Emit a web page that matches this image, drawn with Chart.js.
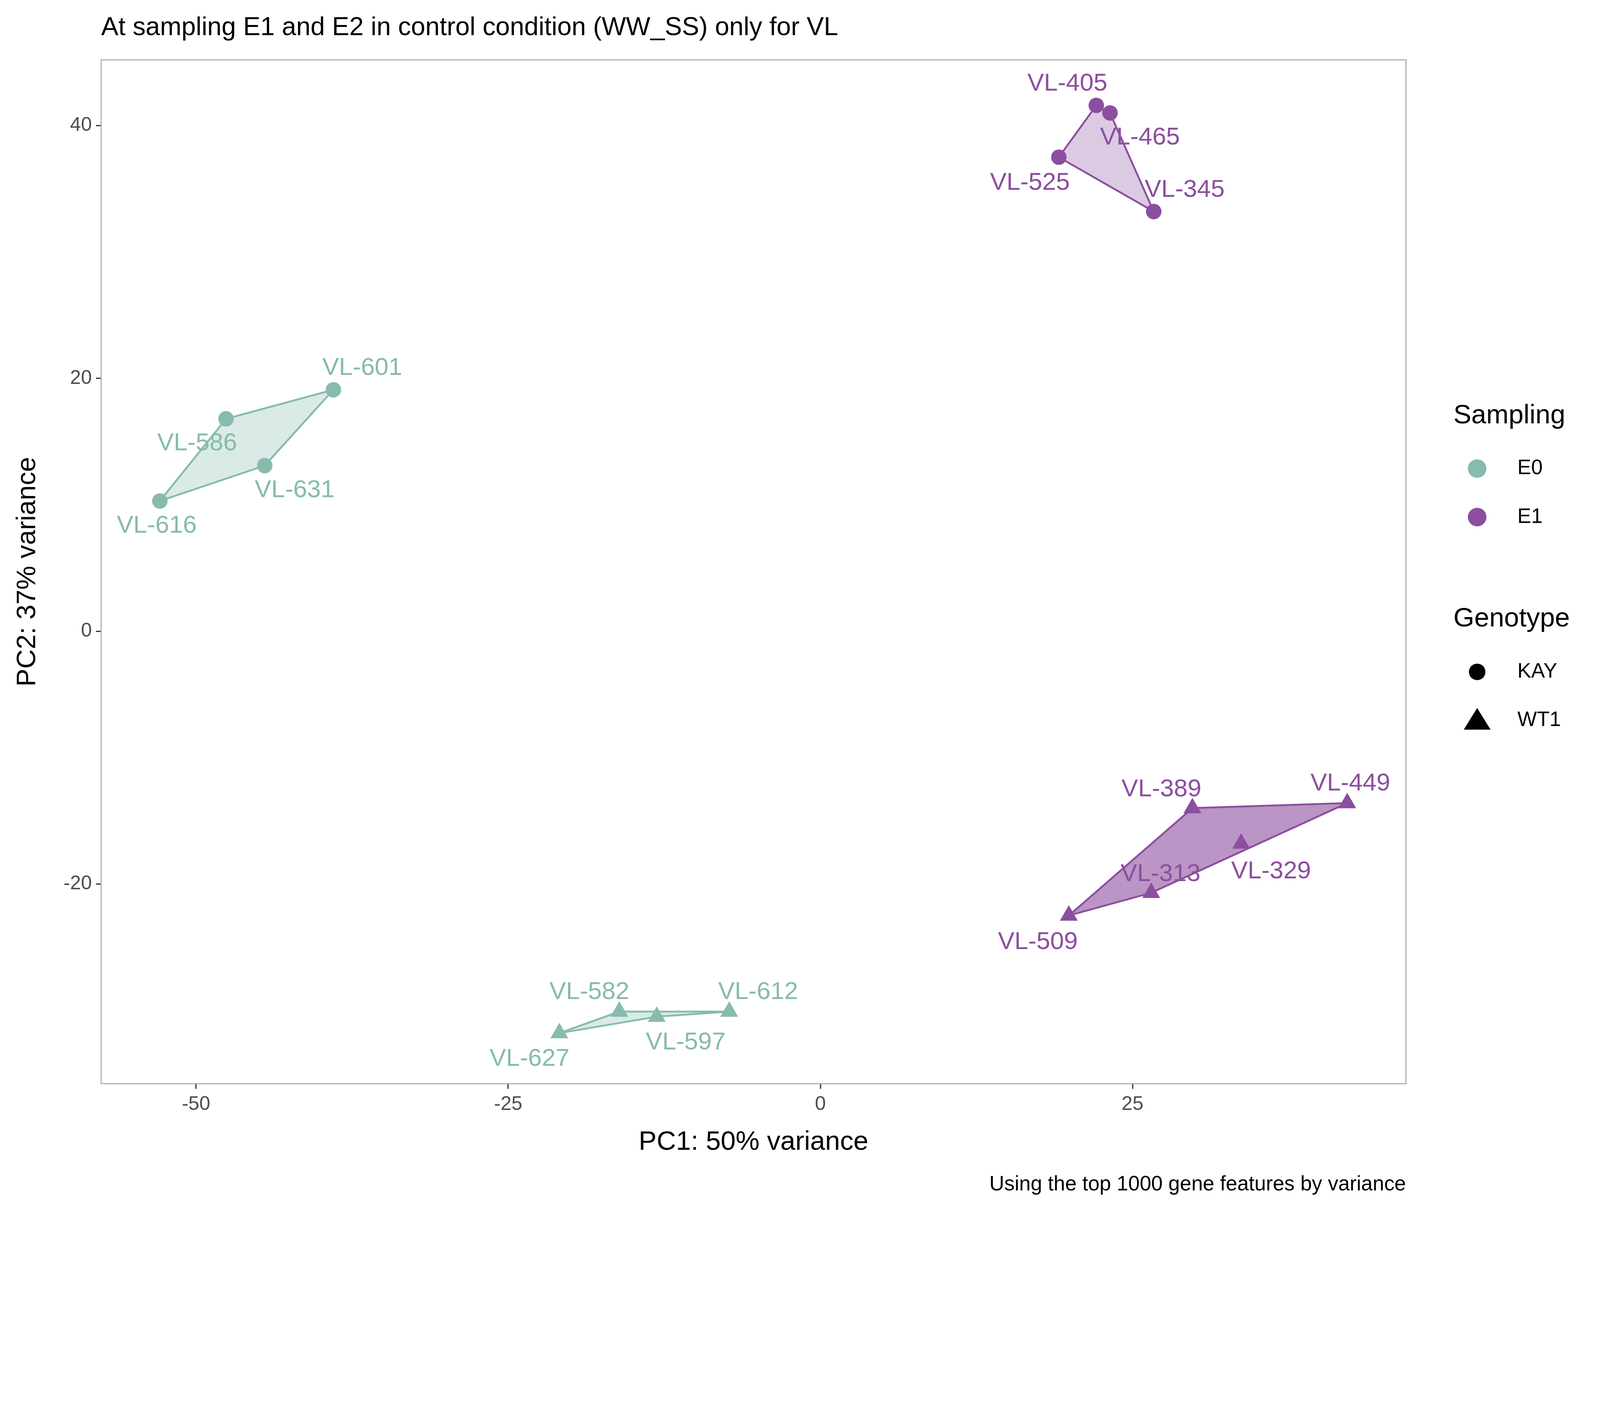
<!DOCTYPE html>
<html>
<head>
<meta charset="utf-8">
<script src="https://cdn.jsdelivr.net/npm/chart.js@4/dist/chart.umd.min.js"></script>
<style>
  html, body { margin: 0; padding: 0; background: #fff; overflow: hidden; }
  #wrap { width: 100vw; height: 100vh; position: relative; }
</style>
</head>
<body>
<div id="wrap"><canvas id="pca"></canvas></div>
<script>
// Samples: name, PC1, PC2
const e0Kay = [['VL-601', -39.0, 19.1], ['VL-586', -47.6, 16.8], ['VL-631', -44.5, 13.1], ['VL-616', -52.9, 10.3]];
const e1Kay = [['VL-405', 22.1, 41.6], ['VL-465', 23.2, 41.0], ['VL-525', 19.1, 37.5], ['VL-345', 26.7, 33.2]];
const e0Wt1 = [['VL-627', -20.9, -31.8], ['VL-582', -16.1, -30.1], ['VL-597', -13.1, -30.5], ['VL-612', -7.3, -30.1]];
const e1Wt1 = [['VL-389', 29.8, -14.0], ['VL-449', 42.2, -13.6], ['VL-329', 33.7, -16.8], ['VL-313', 26.5, -20.7], ['VL-509', 19.9, -22.5]];

// hull outlines (sample names, in drawing order)
const hullE0Kay = ['VL-616', 'VL-586', 'VL-601', 'VL-631'];
const hullE1Kay = ['VL-525', 'VL-405', 'VL-465', 'VL-345'];
const hullE0Wt1 = ['VL-627', 'VL-582', 'VL-612', 'VL-597'];
const hullE1Wt1 = ['VL-509', 'VL-389', 'VL-449', 'VL-313'];

const xTicks = [-50, -25, 0, 25];
const yTicks = [-20, 0, 20, 40];

const E0 = '#86BBAD';
const E1 = '#8C4E9F';

// scale from a 1550x1162 design to the window
const W = window.innerWidth, H = window.innerHeight;
const S = W / 1550;

// label offsets in design px (relative to the point)
const labelOffset = {
    'VL-601': [28, -21], 'VL-586': [-28, 24], 'VL-631': [29, 24], 'VL-616': [-3, 24],
    'VL-405': [-28, -21], 'VL-465': [29, 24], 'VL-525': [-28, 25], 'VL-345': [30, -21],
    'VL-627': [-29, 25], 'VL-582': [-29, -19], 'VL-597': [28, 25], 'VL-612': [28, -19],
    'VL-389': [-30, -18], 'VL-449': [3, -19], 'VL-329': [29, 27], 'VL-313': [9, -18], 'VL-509': [-30, 26]
};

function pts(group) { return group.map(g => ({ x: g[1], y: g[2], name: g[0] })); }
function hull(group, order) {
    const p = order.map(n => { const g = group.find(r => r[0] === n); return { x: g[1], y: g[2] }; });
    p.push(p[0]);
    return p;
}
function hullSet(group, order, color, alpha) {
    return {
        data: hull(group, order), showLine: true, fill: 'shape', tension: 0,
        borderColor: color, borderWidth: 1.8 * S, backgroundColor: color + alpha,
        pointRadius: 0, order: 2, isLabel: false
    };
}
function pointSet(group, color, style, r) {
    return {
        data: pts(group), pointStyle: style, pointRadius: r, pointHoverRadius: r,
        backgroundColor: color, borderColor: color, borderWidth: 0, order: 1, isLabel: true, labelColor: color
    };
}

const font = 'Arial, "Liberation Sans", sans-serif';

const decorations = {
    id: 'decorations',
    afterDatasetsDraw(chart) {
        const ctx = chart.ctx;
        const a = chart.chartArea;
        ctx.save();
        // labels
        ctx.font = `${24 * S}px ${font}`;
        ctx.textAlign = 'center';
        ctx.textBaseline = 'middle';
        chart.data.datasets.forEach((ds, i) => {
            if (!ds.isLabel) return;
            chart.getDatasetMeta(i).data.forEach((el, j) => {
                const off = labelOffset[ds.data[j].name];
                ctx.fillStyle = ds.labelColor;
                ctx.fillText(ds.data[j].name, el.x + off[0] * S, el.y + off[1] * S);
            });
        });
        // panel border
        ctx.strokeStyle = '#b3b3b3';
        ctx.lineWidth = 1.2 * S;
        ctx.strokeRect(a.left, a.top, a.right - a.left, a.bottom - a.top);
        // title & axis titles
        ctx.fillStyle = '#000';
        ctx.textAlign = 'left';
        ctx.font = `${25 * S}px ${font}`;
        ctx.fillText('At sampling E1 and E2 in control condition (WW_SS) only for VL', 98 * S, 27 * S);
        ctx.textAlign = 'center';
        ctx.font = `${26 * S}px ${font}`;
        ctx.fillText('PC1: 50% variance', (a.left + a.right) / 2, 1107 * S);
        ctx.save();
        ctx.translate(27 * S, (a.top + a.bottom) / 2);
        ctx.rotate(-Math.PI / 2);
        ctx.fillText('PC2: 37% variance', 0, 0);
        ctx.restore();
        ctx.textAlign = 'right';
        ctx.font = `${20 * S}px ${font}`;
        ctx.fillText('Using the top 1000 gene features by variance', a.right, 1148 * S);
        // legend
        ctx.textAlign = 'left';
        ctx.font = `${26 * S}px ${font}`;
        ctx.fillText('Sampling', 1408 * S, 403 * S);
        ctx.fillText('Genotype', 1408 * S, 600 * S);
        ctx.font = `${20 * S}px ${font}`;
        [['E0', E0, 454], ['E1', E1, 501]].forEach(([t, c, y]) => {
            ctx.fillStyle = c;
            ctx.beginPath(); ctx.arc(1431 * S, y * S, 9 * S, 0, Math.PI * 2); ctx.fill();
            ctx.fillStyle = '#000';
            ctx.fillText(t, 1470 * S, y * S);
        });
        ctx.beginPath(); ctx.arc(1431 * S, 651 * S, 8 * S, 0, Math.PI * 2); ctx.fill();
        ctx.fillText('KAY', 1470 * S, 651 * S);
        ctx.beginPath();
        ctx.moveTo(1431 * S, 686 * S); ctx.lineTo(1444 * S, 707 * S); ctx.lineTo(1418 * S, 707 * S);
        ctx.closePath(); ctx.fill();
        ctx.fillText('WT1', 1470 * S, 698 * S);
        ctx.restore();
    }
};

new Chart(document.getElementById('pca').getContext('2d'), {
    type: 'scatter',
    data: {
        datasets: [
            hullSet(e0Kay, hullE0Kay, E0, '4D'),
            hullSet(e1Kay, hullE1Kay, E1, '4D'),
            hullSet(e0Wt1, hullE0Wt1, E0, '4D'),
            hullSet(e1Wt1, hullE1Wt1, E1, '99'),
            pointSet(e0Kay, E0, 'circle', 7.5 * S),
            pointSet(e1Kay, E1, 'circle', 7.5 * S),
            pointSet(e0Wt1, E0, 'triangle', 10 * S),
            pointSet(e1Wt1, E1, 'triangle', 10 * S)
        ]
    },
    options: {
        responsive: true,
        maintainAspectRatio: false,
        animation: false,
        layout: { padding: { top: 58 * S, right: W - 1362 * S, left: 0, bottom: 0 } },
        plugins: { legend: { display: false }, tooltip: { enabled: false } },
        scales: {
            x: {
                min: -57.6, max: 46.9,
                afterBuildTicks: s => { s.ticks = xTicks.map(v => ({ value: v })); },
                afterFit: s => { s.height = H - 1050 * S; },
                grid: { drawOnChartArea: false, color: '#333', tickLength: 5 * S, lineWidth: 1.2 * S },
                border: { display: false },
                ticks: { color: '#4d4d4d', font: { size: 19 * S, family: font }, padding: 4 * S }
            },
            y: {
                min: -35.8, max: 45.2,
                afterBuildTicks: s => { s.ticks = yTicks.map(v => ({ value: v })); },
                afterFit: s => { s.width = 98 * S; },
                grid: { drawOnChartArea: false, color: '#333', tickLength: 5 * S, lineWidth: 1.2 * S },
                border: { display: false },
                ticks: { color: '#4d4d4d', font: { size: 19 * S, family: font }, padding: 4 * S }
            }
        }
    },
    plugins: [decorations]
});
</script>
</body>
</html>
